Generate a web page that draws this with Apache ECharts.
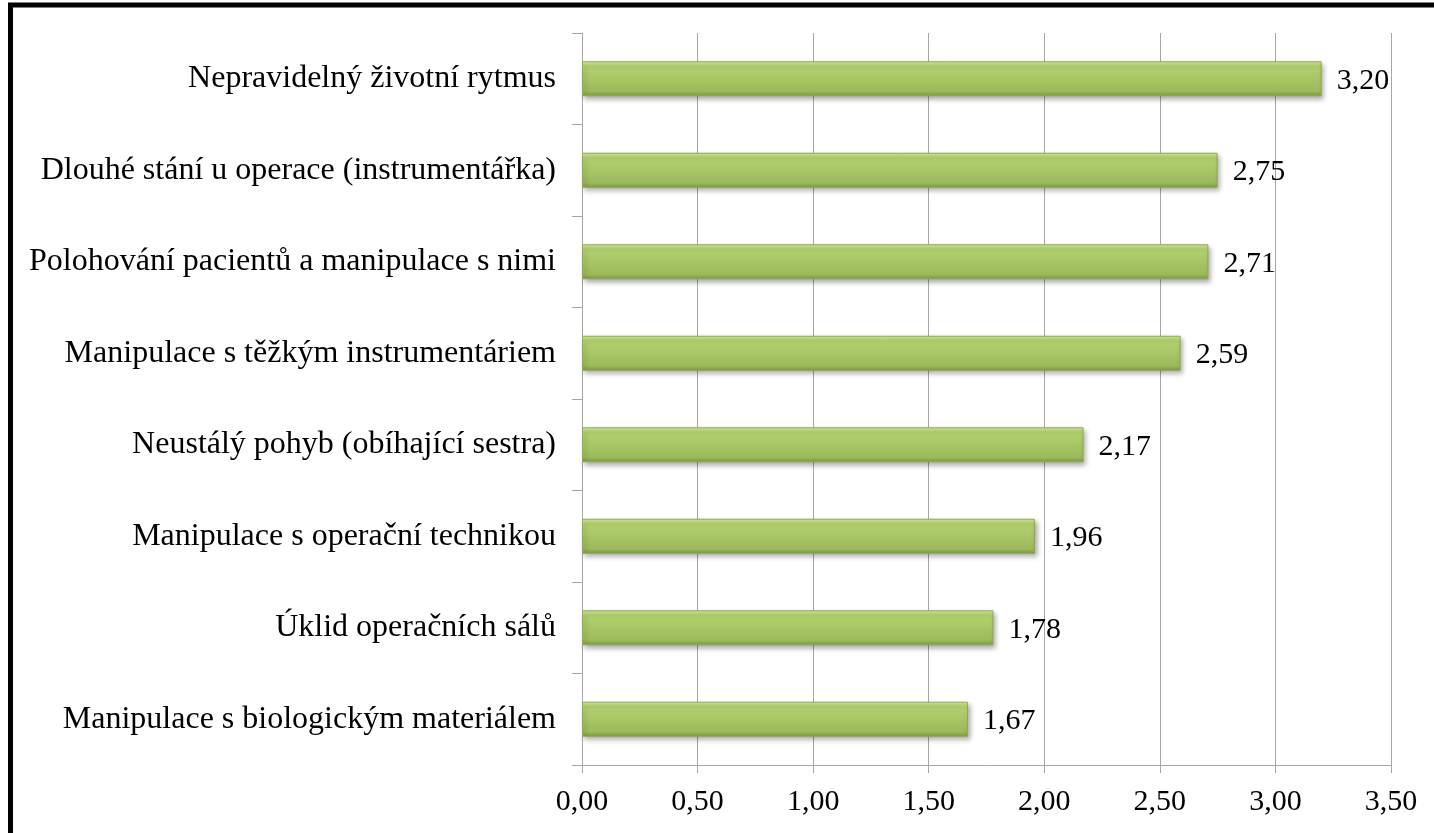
<!DOCTYPE html>
<html>
<head>
<meta charset="utf-8">
<script src="https://cdn.jsdelivr.net/npm/echarts@6/dist/echarts.min.js"></script>
<style>
html,body{margin:0;padding:0;background:#fff;}
#c{width:1434px;height:833px;}
</style>
</head>
<body>
<div id="c"></div>
<script>
const categories = [
  'Nepravidelný životní rytmus',
  'Dlouhé stání u operace (instrumentářka)',
  'Polohování pacientů a manipulace s nimi',
  'Manipulace s těžkým instrumentáriem',
  'Neustálý pohyb (obíhající sestra)',
  'Manipulace s operační technikou',
  'Úklid operačních sálů',
  'Manipulace s biologickým materiálem'
];
const values = [3.20, 2.75, 2.71, 2.59, 2.17, 1.96, 1.78, 1.67];
const xMin = 0, xMax = 3.5, xStep = 0.5;

const fmt = v => Number(v).toFixed(2).replace('.', ',');
const gridColor = '#a6a6a6';
const font = "'Liberation Serif', 'Times New Roman', serif";

const chart = echarts.init(document.getElementById('c'));
chart.setOption({
  animation: false,
  backgroundColor: '#fff',
  grid: { left: 582, right: 43, top: 33, bottom: 68, containLabel: false },
  xAxis: {
    type: 'value', min: xMin, max: xMax, interval: xStep,
    axisLine: { show: true, lineStyle: { color: gridColor, width: 1 } },
    axisTick: { show: true, length: 8, lineStyle: { color: gridColor } },
    splitLine: { show: true, lineStyle: { color: gridColor, width: 1 } },
    axisLabel: { formatter: fmt, fontFamily: font, fontSize: 30, color: '#000', margin: 22 }
  },
  yAxis: {
    type: 'category', inverse: true, data: categories,
    axisLine: { show: true, lineStyle: { color: gridColor, width: 1 } },
    axisTick: { show: true, length: 10, lineStyle: { color: gridColor } },
    splitLine: { show: false },
    axisLabel: { fontFamily: font, fontSize: 32, color: '#000', margin: 26 }
  },
  series: [{
    type: 'bar',
    data: values,
    barWidth: 35,
    itemStyle: {
      color: new echarts.graphic.LinearGradient(0, 0, 0, 1, [
        { offset: 0, color: '#d6eda3' },
        { offset: 0.14, color: '#b4d271' },
        { offset: 0.5, color: '#a8c666' },
        { offset: 0.86, color: '#9cb95b' },
        { offset: 1, color: '#7d9941' }
      ]),
      borderColor: '#8fab4c',
      borderWidth: 1,
      shadowColor: 'rgba(0,0,0,0.35)',
      shadowBlur: 5,
      shadowOffsetX: 2,
      shadowOffsetY: 3
    },
    label: {
      show: true, position: 'right', distance: 15,
      formatter: p => fmt(p.value),
      fontFamily: font, fontSize: 30, color: '#000', offset: [0, 2]
    }
  }],
  graphic: [{
    type: 'rect', z: 100, silent: true,
    shape: { x: 10.5, y: 5, width: 2000, height: 2000 },
    style: { fill: 'none', stroke: '#000', lineWidth: 5 }
  }]
});
</script>
</body>
</html>
